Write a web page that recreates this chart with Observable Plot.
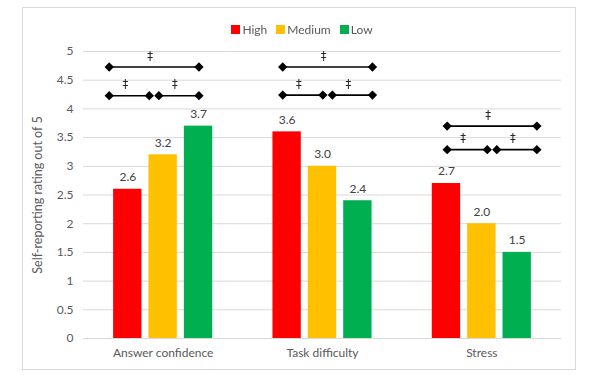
<!DOCTYPE html>
<html><head><meta charset="utf-8">
<script src="https://cdn.jsdelivr.net/npm/d3@7"></script>
<script src="https://cdn.jsdelivr.net/npm/@observablehq/plot@0.6"></script>
<style>
body{margin:0;background:#fff;font-family:Lato,"Open Sans",sans-serif;}
#wrap{position:relative;width:600px;height:377px;overflow:hidden;}
#frame{position:absolute;left:22px;top:7px;width:552px;height:361px;border:1px solid #d9d9d9;pointer-events:none;}
#legend{position:relative;height:40px;}
#legend .items{position:absolute;top:22px;left:0;width:604px;display:flex;justify-content:center;gap:9px;font-size:12px;color:#595959;}
#legend .item{display:flex;align-items:center;}
#legend .sw{width:9px;height:9px;margin-right:2px;display:inline-block;}
.dagger{opacity:0.995;}
</style></head>
<body>
<div id="wrap"><div id="frame"></div><div id="legend"><div class="items"></div></div><div id="chart"></div></div>
<script>
const categories = ["Answer confidence", "Task difficulty", "Stress"];
const levels = ["High", "Medium", "Low"];
const levelColors = ["#FF0000", "#FFC000", "#00B050"];
const high = [2.6, 3.6, 2.7];
const medium = [3.2, 3.0, 2.0];
const low = [3.7, 2.4, 1.5];
const yTicks = [0, 0.5, 1, 1.5, 2, 2.5, 3, 3.5, 4, 4.5, 5];
const yLabel = "Self-reporting rating out of 5";
// significance brackets (‡): comparisons per category and their height on the y scale
const bracketCategory = [0, 0, 0, 1, 1, 1, 2, 2, 2];
const bracketFrom = ["High", "High", "Medium", "High", "High", "Medium", "High", "High", "Medium"];
const bracketTo = ["Low", "Medium", "Low", "Low", "Medium", "Low", "Low", "Medium", "Low"];
const bracketY = [4.73, 4.23, 4.23, 4.73, 4.24, 4.24, 3.70, 3.29, 3.29];
const bracketShift = [-0.057, 0.032, 0.064]; // horizontal placement of each category's bracket group
const bracketSymbol = "‡";

// legend
const items = d3.select("#legend .items");
levels.forEach((l, i) => {
  const it = items.append("div").attr("class", "item");
  it.append("span").attr("class", "sw").style("background", levelColors[i]);
  it.append("span").text(l);
});

const series = [high, medium, low];
const BAR_STEP = 0.222, BAR_HALF = 0.089;
const bars = [];
categories.forEach((c, i) => levels.forEach((l, j) => {
  const cx = i + 0.5 + (j - 1) * BAR_STEP;
  bars.push({category: c, level: l, value: series[j][i], x1: cx - BAR_HALF, x2: cx + BAR_HALF, cx});
}));

const BR_STEP = 0.2815, BR_GAP = 0.03;
const brackets = bracketCategory.map((ci, k) => {
  const base = ci + 0.5 + bracketShift[ci];
  const a = levels.indexOf(bracketFrom[k]), b = levels.indexOf(bracketTo[k]);
  let x1 = base + (a - 1) * BR_STEP, x2 = base + (b - 1) * BR_STEP;
  if (b - a === 1) { if (a === 0) x2 -= BR_GAP; else x1 += BR_GAP; }
  return {x1, x2, y: bracketY[k], mid: (x1 + x2) / 2 - 0.025};
});
const ends = brackets.flatMap(b => [{x: b.x1, y: b.y}, {x: b.x2, y: b.y}]);

const chart = Plot.plot({
  width: 600, height: 337,
  marginLeft: 83, marginRight: 39, marginTop: 11, marginBottom: 39,
  style: {fontFamily: "Lato, 'Open Sans', sans-serif", fontSize: "12px", color: "#595959", background: "white"},
  x: {domain: [0, 3], axis: null},
  y: {domain: [0, 5], axis: null},
  marks: [
    Plot.gridY(yTicks, {stroke: "#d9d9d9", strokeOpacity: 1, strokeWidth: 1}),
    Plot.axisY(yTicks, {tickSize: 0, tickPadding: 10, label: null, tickFormat: d => String(d), fill: "#595959"}),
    Plot.axisX([0.5, 1.5, 2.5], {tickSize: 0, tickPadding: 10, label: null, tickFormat: d => categories[Math.floor(d)], fill: "#595959"}),
    Plot.text([yLabel], {frameAnchor: "left", textAnchor: "middle", rotate: -90, dx: -46, fill: "#595959", fontSize: 12.5}),
    Plot.rectY(bars, {x1: "x1", x2: "x2", y: "value", fill: d => levelColors[levels.indexOf(d.level)]}),
    Plot.text(bars, {x: "cx", y: "value", text: d => d.value.toFixed(1), dy: -12, fill: "#404040", fontSize: 12}),
    Plot.ruleY(brackets, {x1: "x1", x2: "x2", y: "y", stroke: "black", strokeWidth: 1.6}),
    Plot.dot(ends, {x: "x", y: "y", symbol: "diamond2", r: 4.2, fill: "black", stroke: "none"}),
    Plot.text(brackets, {x: "mid", y: "y", text: () => bracketSymbol, dy: -11, fill: "#262626", fontSize: 11.5, fontFamily: "'DejaVu Sans', sans-serif", className: "dagger"})
  ]
});
document.getElementById("chart").appendChild(chart);
</script>
</body></html>
